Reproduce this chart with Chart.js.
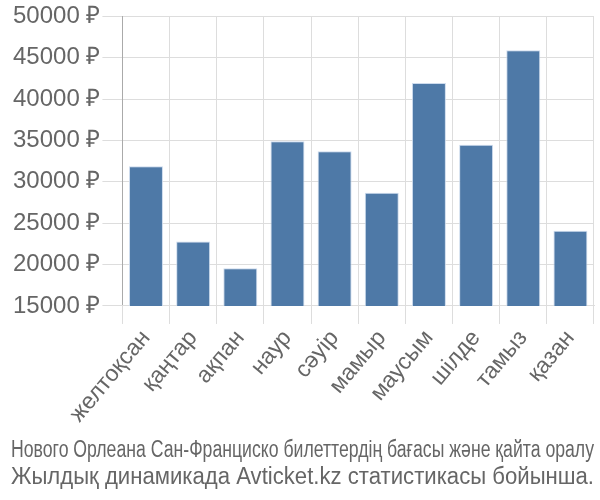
<!DOCTYPE html>
<html><head><meta charset="utf-8">
<script src="https://cdn.jsdelivr.net/npm/chart.js@4"></script>
<style>html,body{margin:0;padding:0;background:#fff}</style>
</head><body>
<canvas id="c" width="600" height="500"></canvas>
<script>
const categories = ["желтоқсан","қаңтар","ақпан","наур","сәуір","мамыр","маусым","шілде","тамыз","қазан"];
const prices = [31900, 22800, 19550, 34900, 33700, 28700, 41950, 34500, 45900, 24100];
const titleLines = ["Нового Орлеана Сан-Франциско билеттердің бағасы және қайта оралу","Жылдық динамикада Avticket.kz статистикасы бойынша."];
const currency = " ₽";

new Chart(document.getElementById('c'), {
  type: 'bar',
  data: {
    labels: categories,
    datasets: [{
      data: prices,
      backgroundColor: 'rgb(78,121,167)',
      borderColor: 'rgba(200,215,235,0.9)',
      borderWidth: 1,
      barPercentage: 0.72,
      categoryPercentage: 1.0
    }]
  },
  options: {
    responsive: false,
    animation: false,
    layout: { padding: { top: 2, right: 6, left: 11, bottom: 0 } },
    plugins: {
      legend: { display: false },
      tooltip: { enabled: false },
      title: {
        display: true,
        position: 'bottom',
        text: titleLines,
        color: '#666',
        font: { family: '"Liberation Sans", Arial, sans-serif', size: 23, weight: 'normal', lineHeight: 1.18 },
        padding: { top: 8, bottom: 9 }
      }
    },
    scales: {
      y: {
        min: 15000, max: 50000,
        ticks: {
          stepSize: 5000,
          color: '#666',
          padding: 2,
          font: { family: '"Liberation Sans", Arial, sans-serif', size: 24 },
          callback: v => v + currency
        },
        grid: { color: '#ddd', tickLength: 20 },
        border: { color: '#aaa' }
      },
      x: {
        ticks: {
          color: '#666',
          padding: 1,
          maxRotation: 50, minRotation: 50,
          font: { family: '"Liberation Sans", Arial, sans-serif', size: 23 }
        },
        grid: { color: '#ddd', offset: true, tickLength: 18 },
        border: { color: '#ddd' }
      }
    }
  }
});
</script>
</body></html>
